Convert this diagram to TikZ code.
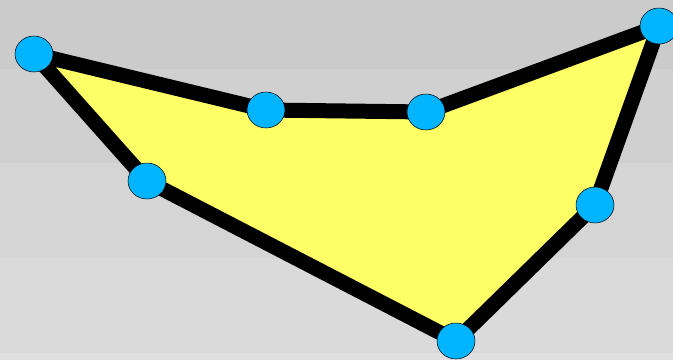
\documentclass[tikz,border=0pt]{standalone}
\usepackage{tikz}
\usetikzlibrary{shapes.geometric}

\definecolor{bandA}{RGB}{203,203,203}
\definecolor{bandB}{RGB}{208,208,208}
\definecolor{bandC}{RGB}{213,213,213}
\definecolor{bandD}{RGB}{218,218,218}
\definecolor{bandE}{RGB}{224,224,224}
\definecolor{hullfill}{RGB}{255,255,102}
\definecolor{dotblue}{RGB}{0,180,255}

\begin{document}
\begin{tikzpicture}[x=1pt, y=-1pt,
  vertex/.style={ellipse, draw=black, fill=dotblue, line width=0.5pt,
    minimum width=38pt, minimum height=36pt, inner sep=0pt},
  hull/.style={line width=15pt, line join=round, fill=hullfill, draw=black}]

% Background bands
\fill[bandA] (0,0) rectangle (673,69);
\fill[bandB] (0,69) rectangle (673,163);
\fill[bandC] (0,163) rectangle (673,258);
\fill[bandD] (0,258) rectangle (673,353);
\fill[bandE] (0,353) rectangle (673,360);
\useasboundingbox (0,0) rectangle (673,360);

% Corner points
\coordinate (c1) at (34,54);
\coordinate (c2) at (266,110);
\coordinate (c3) at (426,112);
\coordinate (c4) at (659,26);
\coordinate (c5) at (595,205);
\coordinate (c6) at (456,341);
\coordinate (c7) at (147,181);

% Polygon
\draw[hull] (c1) -- (c2) -- (c3) -- (c4) -- (c5) -- (c6) -- (c7) -- cycle;

% Vertices
\node[vertex] (v1) at (c1) {};
\node[vertex] (v2) at (c2) {};
\node[vertex] (v3) at (c3) {};
\node[vertex] (v4) at (c4) {};
\node[vertex] (v5) at (c5) {};
\node[vertex] (v6) at (c6) {};
\node[vertex] (v7) at (c7) {};

\end{tikzpicture}
\end{document}
